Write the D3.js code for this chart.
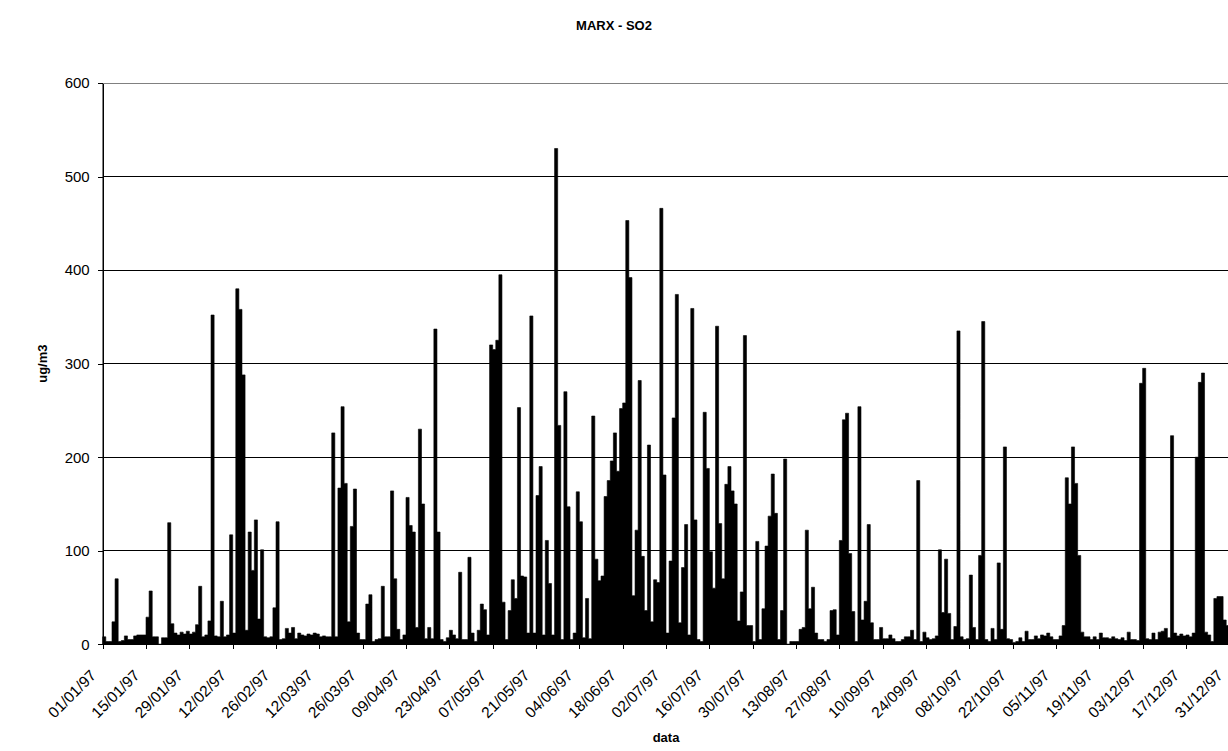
<!DOCTYPE html>
<html>
<head>
<meta charset="utf-8">
<script src="https://cdn.jsdelivr.net/npm/d3@7"></script>
<style>
  body { margin: 0; background: #fff; }
  svg { display: block; font-family: "Liberation Sans", Arial, sans-serif; }
</style>
</head>
<body>
<div class="chart"></div>
<script>
// daily SO2 values (ug/m3), 1997
var jan = [8, 3, 3, 24, 70, 3, 4, 9, 5, 5, 9, 10, 10, 10, 29, 57, 8, 8, 0, 7, 7, 130, 22, 12, 10, 13, 11, 14, 11, 13, 21];
var feb = [62, 8, 10, 25, 352, 9, 8, 46, 8, 10, 117, 12, 380, 358, 288, 15, 120, 79, 133, 27, 101, 8, 7, 8, 39, 131, 5, 6];
var mar = [17, 12, 18, 6, 12, 10, 9, 11, 10, 12, 11, 8, 9, 8, 8, 226, 8, 167, 254, 172, 24, 126, 166, 12, 5, 5, 43, 53, 3, 5, 6];
var apr = [62, 8, 8, 164, 70, 16, 5, 10, 157, 127, 120, 18, 230, 150, 6, 18, 6, 337, 120, 5, 3, 7, 15, 10, 6, 77, 5, 5, 93, 12];
var may = [3, 15, 43, 37, 10, 320, 315, 325, 395, 45, 5, 36, 69, 49, 253, 73, 72, 12, 351, 12, 159, 190, 10, 111, 65, 10, 530, 234, 5, 270, 147];
var jun = [5, 12, 163, 131, 7, 49, 6, 244, 91, 68, 73, 158, 175, 196, 226, 185, 252, 258, 453, 392, 52, 122, 282, 94, 36, 213, 24, 69, 66, 466];
var jul = [181, 12, 89, 242, 374, 23, 82, 128, 10, 359, 133, 5, 3, 248, 188, 99, 60, 340, 129, 70, 171, 190, 164, 150, 25, 56, 330, 20, 20, 3, 110];
var aug = [5, 38, 105, 137, 182, 140, 5, 36, 198, 0, 3, 3, 3, 16, 18, 122, 38, 61, 12, 5, 5, 3, 5, 36, 37, 10, 111, 240, 247, 97, 35];
var sep = [3, 254, 26, 46, 128, 23, 5, 5, 18, 6, 6, 10, 6, 3, 3, 5, 8, 8, 15, 5, 175, 3, 13, 7, 5, 6, 9, 101, 34, 91];
var oct = [33, 5, 19, 335, 8, 5, 6, 74, 18, 5, 95, 345, 5, 3, 17, 5, 87, 16, 211, 6, 5, 2, 3, 7, 3, 14, 5, 5, 9, 6, 10];
var nov = [9, 12, 8, 5, 5, 9, 20, 178, 150, 211, 172, 95, 13, 8, 8, 5, 8, 5, 12, 7, 7, 6, 8, 6, 5, 7, 4, 13, 5, 5];
var dec = [4, 279, 295, 6, 5, 12, 5, 13, 14, 17, 7, 223, 12, 9, 11, 9, 10, 8, 12, 200, 280, 290, 13, 10, 3, 49, 51, 51, 26, 20, 20];

var tickLabels = ["01/01/97", "15/01/97", "29/01/97", "12/02/97", "26/02/97", "12/03/97", "26/03/97",
  "09/04/97", "23/04/97", "07/05/97", "21/05/97", "04/06/97", "18/06/97", "02/07/97", "16/07/97",
  "30/07/97", "13/08/97", "27/08/97", "10/09/97", "24/09/97", "08/10/97", "22/10/97", "05/11/97",
  "19/11/97", "03/12/97", "17/12/97", "31/12/97"];
var yTicks = [0, 100, 200, 300, 400, 500, 600];

var so2 = [].concat(jan, feb, mar, apr, may, jun, jul, aug, sep, oct, nov, dec);
var start = Date.UTC(1997, 0, 1);
var parseDay = d3.utcParse("%d/%m/%y");
var fmtDay = d3.utcFormat("%d/%m/%y");

var width = 1228, height = 751;
var plotLeft = 102.7, plotRight = 1229.3, plotTop = 83, plotBottom = 644.3;

var svg = d3.select(".chart").append("svg")
  .attr("width", width)
  .attr("height", height);

var x = d3.scaleUtc()
  .domain([parseDay("01/01/97"), parseDay("31/12/97")])
  .range([plotLeft, plotRight]);

var y = d3.scaleLinear()
  .domain([0, 600])
  .range([plotBottom, plotTop]);

// gridlines
svg.append("g")
  .selectAll("line")
  .data(yTicks.filter(function(d) { return d > 0 && d < 600; }))
  .enter().append("line")
    .attr("x1", plotLeft).attr("x2", plotRight)
    .attr("y1", function(d) { return y(d); })
    .attr("y2", function(d) { return y(d); })
    .attr("stroke", "#000")
    .attr("stroke-width", 1)
    .attr("shape-rendering", "crispEdges");

svg.append("rect")
  .attr("x", plotLeft).attr("y", y(600))
  .attr("width", plotRight - plotLeft).attr("height", y(0) - y(600))
  .attr("fill", "none")
  .attr("stroke", "#808080")
  .attr("shape-rendering", "crispEdges");

// the series
var area = d3.area()
  .x(function(d, i) { return x(new Date(start + i * 864e5)); })
  .y0(y(0))
  .y1(function(d) { return y(d); })
  .curve(d3.curveStepAfter);

svg.append("path")
  .datum(so2)
  .attr("d", area)
  .attr("fill", "#000")
  .attr("stroke", "#000")
  .attr("stroke-width", 0.6);

// axes
var yAxis = d3.axisLeft(y).tickValues(yTicks).tickSize(5).tickSizeOuter(0).tickPadding(8);
var gy = svg.append("g")
  .attr("transform", "translate(" + plotLeft + ",0)")
  .call(yAxis);
gy.selectAll("text").style("font-size", "15px").attr("fill", "#000");

var xAxis = d3.axisBottom(x)
  .tickValues(tickLabels.map(parseDay))
  .tickFormat(fmtDay)
  .tickSize(5)
  .tickSizeOuter(0);
var gx = svg.append("g")
  .attr("transform", "translate(0," + plotBottom + ")")
  .call(xAxis);
gx.selectAll("text")
  .style("font-size", "15.5px")
  .style("text-anchor", "end")
  .attr("fill", "#000")
  .attr("x", 0).attr("y", 0).attr("dy", 0)
  .attr("transform", "translate(-6,32) rotate(-45)");

[gx, gy].forEach(function(g) {
  g.selectAll("line, path").attr("stroke", "#000").attr("shape-rendering", "crispEdges");
});

// titles
svg.append("text")
  .attr("x", 614).attr("y", 30)
  .attr("text-anchor", "middle")
  .style("font-size", "13px").style("font-weight", "bold")
  .text("MARX - SO2");

svg.append("text")
  .attr("x", (plotLeft + plotRight) / 2).attr("y", 742)
  .attr("text-anchor", "middle")
  .style("font-size", "13px").style("font-weight", "bold")
  .text("data");

svg.append("text")
  .attr("transform", "translate(47," + (plotTop + plotBottom) / 2 + ") rotate(-90)")
  .attr("text-anchor", "middle")
  .style("font-size", "13px").style("font-weight", "bold")
  .text("ug/m3");
</script>
</body>
</html>
